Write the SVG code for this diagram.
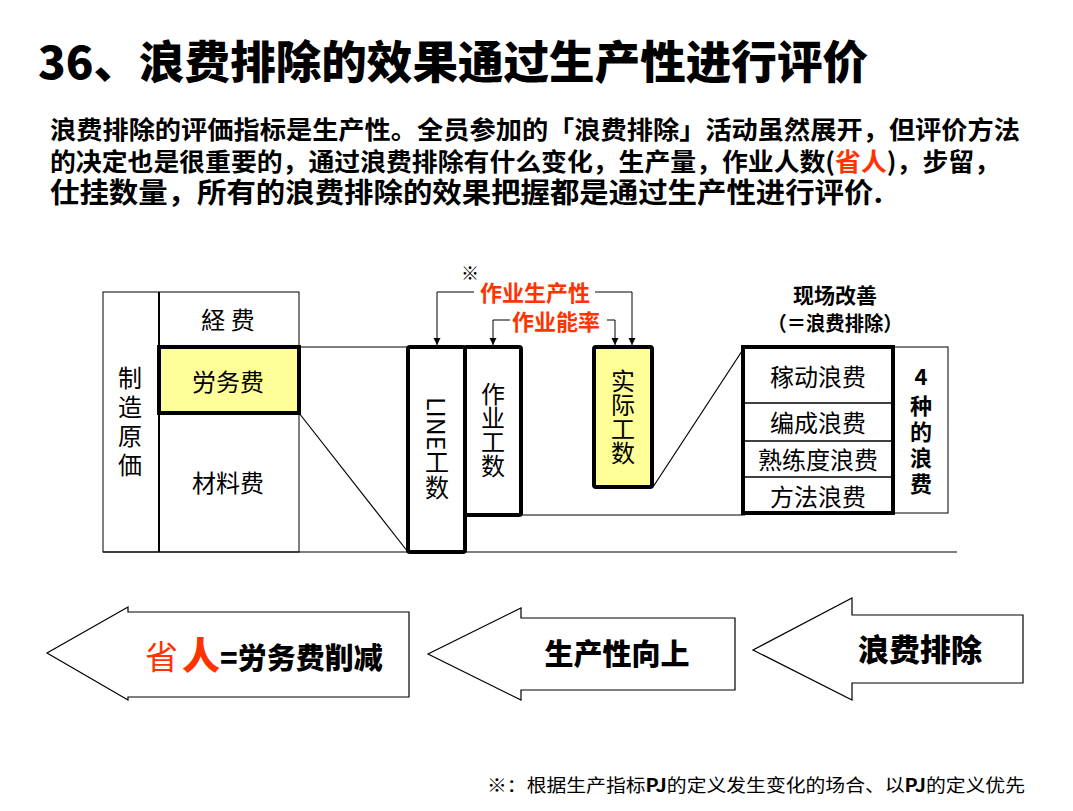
<svg xmlns="http://www.w3.org/2000/svg" width="1073" height="811" viewBox="0 0 1073 811">
<style>
text{font-family:"Noto Sans CJK SC","Liberation Sans",sans-serif;fill:#000}
.b{font-weight:700}
.h{font-weight:900}
.red{fill:#FF3300}
.c{text-anchor:middle}
.t24{font-size:24px}
.v{writing-mode:vertical-rl}
.thin{fill:none;stroke:#000;stroke-width:1}
.thick{stroke:#000;stroke-width:4}
.ln{fill:none;stroke:#000;stroke-width:1.2}
.arr{fill:#fff;stroke:#000;stroke-width:1.2}
</style>
<defs>
<marker id="ah" viewBox="0 0 10 10" refX="10" refY="5" markerWidth="7" markerHeight="8" markerUnits="userSpaceOnUse" orient="auto">
<path d="M0,0 L10,5 L0,10 z" fill="#000"/>
</marker>
</defs>
<rect width="1073" height="811" fill="#fff"/>

<g id="title">
<text x="38" y="79" class="h" font-size="45" textLength="830" lengthAdjust="spacingAndGlyphs">36、浪费排除的效果通过生产性进行评价</text>
</g>
<g id="paragraph">
<text x="50" y="139" class="b" font-size="25" textLength="970" lengthAdjust="spacingAndGlyphs">浪费排除的评価指标是生产性。全员参加的「浪费排除」活动虽然展开，但评价方法</text>
<text x="50" y="171" class="b" font-size="25" textLength="950" lengthAdjust="spacingAndGlyphs">的决定也是很重要的，通过浪费排除有什么变化，生产量，作业人数(<tspan class="red">省人</tspan>)，步留，</text>
<text x="50" y="203" class="b" font-size="28" textLength="833" lengthAdjust="spacingAndGlyphs">仕挂数量，所有的浪费排除的效果把握都是通过生产性进行评价.</text>
</g>

<g id="connectors">
<line x1="159" y1="347" x2="410" y2="347" class="ln"/>
<line x1="299" y1="413" x2="408" y2="552" class="ln"/>
<line x1="103" y1="552" x2="957" y2="552" class="ln"/>
<line x1="520" y1="515" x2="745" y2="515" class="ln"/>
<line x1="653" y1="487" x2="744" y2="348" class="ln"/>
<path d="M474,292 H437 V345" class="thin" marker-end="url(#ah)"/>
<path d="M595,292 H632 V345" class="thin" marker-end="url(#ah)"/>
<path d="M510,320 H493 V345" class="thin" marker-end="url(#ah)"/>
<path d="M607,320 H615 V345" class="thin" marker-end="url(#ah)"/>
</g>

<g id="cost-table">
<rect x="103" y="292" width="196" height="260" class="thin"/>
<line x1="159" y1="292" x2="159" y2="552" stroke="#000" stroke-width="2"/>
<text x="130" y="366" class="v t24" letter-spacing="5">制造原価</text>
<text x="228" y="329" class="c t24">経 费</text>
<text x="228" y="492" class="c t24">材料费</text>
</g>
<g id="labor-cost">
<rect x="159" y="347" width="140" height="66" fill="#FFFF99" class="thick"/>
<text x="228" y="391" class="c t24">労务费</text>
</g>

<g id="line-hours">
<rect x="408" y="347" width="57" height="205" rx="2" fill="#fff" class="thick"/>
<text x="437" y="397" class="v t24" textLength="103" lengthAdjust="spacingAndGlyphs">LINE工数</text>
</g>
<g id="work-hours">
<rect x="465" y="347" width="56" height="168" rx="2" fill="#fff" class="thick"/>
<text x="493" y="382" class="v t24">作业工数</text>
</g>
<g id="actual-hours">
<rect x="594" y="347" width="58" height="140" rx="2" fill="#FFFF99" class="thick"/>
<text x="623" y="369" class="v t24">实际工数</text>
</g>

<g id="productivity-labels">
<text x="470" y="280" class="c" font-size="18">※</text>
<text x="535" y="301" class="c b red" font-size="22">作业生产性</text>
<text x="556" y="330" class="c b red" font-size="22">作业能率</text>
</g>

<g id="kaizen-label">
<text x="835" y="303" class="c b" font-size="21">现场改善</text>
<text x="835" y="331" class="c b" font-size="20" textLength="135" lengthAdjust="spacingAndGlyphs">（＝浪费排除）</text>
</g>

<g id="four-wastes">
<rect x="893" y="347" width="55" height="166" class="thin"/>
<text x="921" y="385" class="c b" font-size="22">4</text>
<text x="921" y="395" class="v b" font-size="22" letter-spacing="4">种的浪费</text>
</g>
<g id="waste-list">
<rect x="743" y="347" width="150" height="166" fill="#fff" class="thick"/>
<line x1="745" y1="403" x2="891" y2="403" stroke="#000" stroke-width="1.5"/>
<line x1="745" y1="441" x2="891" y2="441" stroke="#000" stroke-width="1.5"/>
<line x1="745" y1="477" x2="891" y2="477" stroke="#000" stroke-width="1.5"/>
<text x="818" y="386" class="c t24">稼动浪费</text>
<text x="818" y="432" class="c t24">编成浪费</text>
<text x="818" y="469" class="c t24">熟练度浪费</text>
<text x="818" y="506" class="c t24">方法浪费</text>
</g>

<g id="arrow-labor">
<polygon points="409,612 128,612 128,607 47,653 128,700 128,697 409,697" class="arr"/>
<text x="145" y="669"><tspan class="red" font-size="33">省</tspan><tspan class="red h" font-size="38" dx="4">人</tspan><tspan class="h" font-size="29">=労务费削减</tspan></text>
</g>
<g id="arrow-productivity">
<polygon points="735,618 521,618 521,608 428,654 521,700 521,690 735,690" class="arr"/>
<text x="617" y="665" class="c h" font-size="29">生产性向上</text>
</g>
<g id="arrow-waste">
<polygon points="1023,615 852,615 852,598 753,650 852,700 852,683 1023,683" class="arr"/>
<text x="920" y="661" class="c h" font-size="31">浪费排除</text>
</g>

<g id="footnote">
<text x="487" y="792" font-size="18" textLength="538" lengthAdjust="spacingAndGlyphs">※：根据生产指标<tspan class="b">PJ</tspan>的定义发生变化的场合、以<tspan class="b">PJ</tspan>的定义优先</text>
</g>
</svg>
